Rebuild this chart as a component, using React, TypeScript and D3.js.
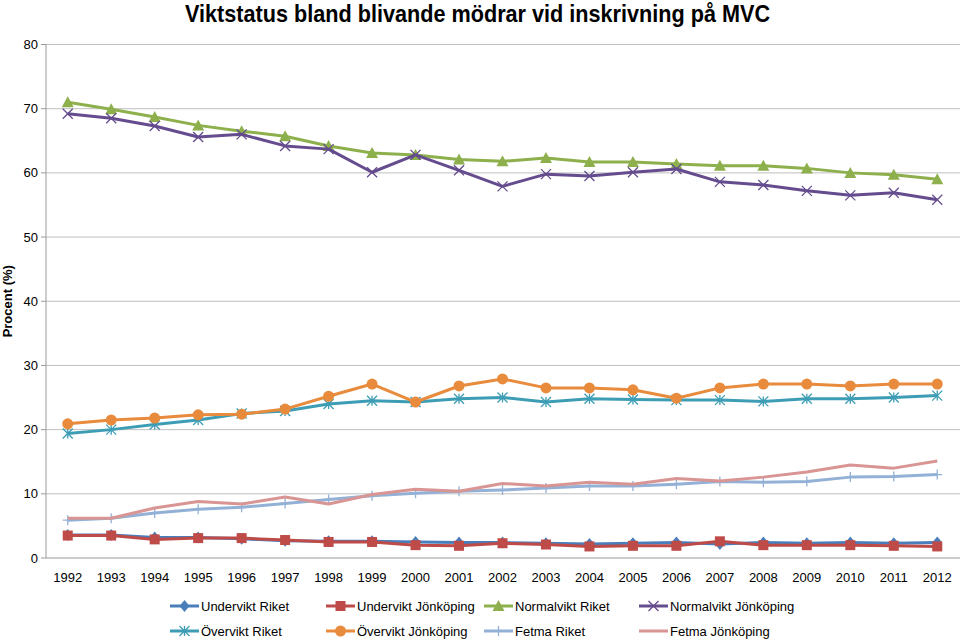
import React from "react";
import * as d3 from "d3";

const years = ["1992","1993","1994","1995","1996","1997","1998","1999","2000","2001","2002","2003","2004","2005","2006","2007","2008","2009","2010","2011","2012"];
const yTicks = [0, 10, 20, 30, 40, 50, 60, 70, 80];

const underviktRiket = [3.6,3.6,3.2,3.2,3.0,2.7,2.6,2.6,2.5,2.4,2.4,2.3,2.2,2.3,2.4,2.2,2.4,2.3,2.4,2.3,2.4];
const underviktJkp = [3.5,3.5,2.9,3.1,3.1,2.8,2.5,2.5,2.0,1.9,2.3,2.1,1.8,1.9,1.9,2.6,2.0,2.0,2.0,1.9,1.8];
const normalviktRiket = [71.0,69.9,68.7,67.4,66.5,65.7,64.2,63.1,62.8,62.1,61.8,62.3,61.7,61.7,61.4,61.1,61.1,60.7,60.0,59.7,59.0];
const normalviktJkp = [69.2,68.5,67.3,65.6,66.0,64.2,63.7,60.1,62.8,60.4,57.9,59.8,59.5,60.1,60.6,58.6,58.1,57.2,56.5,56.9,55.8];
const overviktRiket = [19.4,20.0,20.8,21.5,22.5,22.9,24.0,24.5,24.3,24.8,25.0,24.3,24.8,24.7,24.6,24.6,24.4,24.8,24.8,25.0,25.3];
const overviktJkp = [20.9,21.5,21.8,22.3,22.4,23.2,25.2,27.1,24.3,26.8,27.9,26.5,26.5,26.2,24.9,26.5,27.1,27.1,26.8,27.1,27.1];
const fetmaRiket = [5.9,6.2,7.0,7.6,7.9,8.5,9.1,9.7,10.1,10.4,10.6,10.9,11.2,11.2,11.5,11.9,11.8,11.9,12.6,12.7,13.0];
const fetmaJkp = [6.2,6.2,7.8,8.8,8.4,9.5,8.4,9.9,10.7,10.4,11.6,11.2,11.8,11.5,12.4,12.0,12.6,13.4,14.5,14.0,15.1];

const seriesNames = ["Undervikt Riket","Undervikt Jönköping","Normalvikt Riket","Normalvikt Jönköping","Övervikt Riket","Övervikt Jönköping","Fetma Riket","Fetma Jönköping"];
const seriesValues = [underviktRiket, underviktJkp, normalviktRiket, normalviktJkp, overviktRiket, overviktJkp, fetmaRiket, fetmaJkp];
const seriesColors = ["#4A7EBB","#BE4B48","#8DB04C","#654C8E","#3D9DB5","#E88B3C","#93B1D6","#D89593"];
const seriesMarkers = ["diamond","square","triangle","x","star","circle","plus","none"];

const FONT = "'Liberation Sans', Arial, sans-serif";

function Marker({ type, x, y, color }: { type: string; x: number; y: number; color: string }) {
  const s = 5;
  if (type === "diamond") return <path d={`M${x},${y - s - 1}L${x + s},${y}L${x},${y + s + 1}L${x - s},${y}Z`} fill={color} />;
  if (type === "square") return <rect x={x - s} y={y - s} width={2 * s} height={2 * s} fill={color} />;
  if (type === "triangle") return <path d={`M${x},${y - s - 1}L${x + s + 1},${y + s}L${x - s - 1},${y + s}Z`} fill={color} />;
  if (type === "circle") return <circle cx={x} cy={y} r={s + 0.5} fill={color} />;
  if (type === "x")
    return <path d={`M${x - s},${y - s}L${x + s},${y + s}M${x - s},${y + s}L${x + s},${y - s}`} stroke={color} strokeWidth={1.3} />;
  if (type === "star")
    return <path d={`M${x - s},${y - s}L${x + s},${y + s}M${x - s},${y + s}L${x + s},${y - s}M${x},${y - s}L${x},${y + s}`} stroke={color} strokeWidth={1.3} />;
  if (type === "plus")
    return <path d={`M${x - s},${y}L${x + s},${y}M${x},${y - s}L${x},${y + s}`} stroke={color} strokeWidth={1.3} />;
  return null;
}

export default function App() {
  const W = 960, H = 641;
  const left = 46, right = 959, top = 44.5, bottom = 558;
  const x = d3.scaleBand<string>().domain(years).range([left, right]);
  const cx = (yr: string) => (x(yr) as number) + x.bandwidth() / 2;
  const y = d3.scaleLinear().domain([0, 80]).range([bottom, top]);
  const line = d3.line<number>().x((_, i) => cx(years[i])).y((v) => y(v));

  const legendX = [170, 326, 484, 639];
  const legendY = [606, 631];

  return (
    <svg width={W} height={H} style={{ position: "absolute", left: 0, top: 0, background: "#fff" }} fontFamily={FONT}>
      <text x={185} y={22} fontSize={24} fontWeight="bold" fill="#000" textLength={585} lengthAdjust="spacingAndGlyphs">
        Viktstatus bland blivande mödrar vid inskrivning på MVC
      </text>
      {yTicks.map((t) => (
        <g key={t}>
          {t > 0 && <line x1={left} x2={right + 1} y1={y(t)} y2={y(t)} stroke="#BFBFBF" strokeWidth={1} />}
          <line x1={left - 5} x2={left} y1={y(t)} y2={y(t)} stroke="#9A9A9A" />
          <text x={38} y={y(t) + 4.5} textAnchor="end" fontSize={13} fill="#000">{t}</text>
        </g>
      ))}
      <line x1={left} x2={left} y1={top} y2={bottom} stroke="#9A9A9A" />
      <line x1={left} x2={right + 1} y1={bottom} y2={bottom} stroke="#9A9A9A" />
      {years.map((yr) => (
        <text key={yr} x={cx(yr)} y={582} textAnchor="middle" fontSize={13} fill="#000">{yr}</text>
      ))}
      <text transform={`translate(12,${y(40)}) rotate(-90)`} textAnchor="middle" fontSize={13} fontWeight="bold" fill="#000">
        Procent (%)
      </text>
      {seriesValues.map((vals, si) => (
        <g key={si}>
          <path d={line(vals) || ""} fill="none" stroke={seriesColors[si]} strokeWidth={3} strokeLinejoin="round" />
          {vals.map((v, i) => (
            <Marker key={i} type={seriesMarkers[si]} x={cx(years[i])} y={y(v)} color={seriesColors[si]} />
          ))}
        </g>
      ))}
      {seriesNames.map((name, si) => {
        const lx = legendX[si % 4];
        const ly = legendY[Math.floor(si / 4)];
        return (
          <g key={name}>
            <line x1={lx} x2={lx + 29} y1={ly} y2={ly} stroke={seriesColors[si]} strokeWidth={3} />
            <Marker type={seriesMarkers[si]} x={lx + 14.5} y={ly} color={seriesColors[si]} />
            <text x={lx + 31} y={ly + 4.5} fontSize={13} fill="#000">{name}</text>
          </g>
        );
      })}
    </svg>
  );
}
